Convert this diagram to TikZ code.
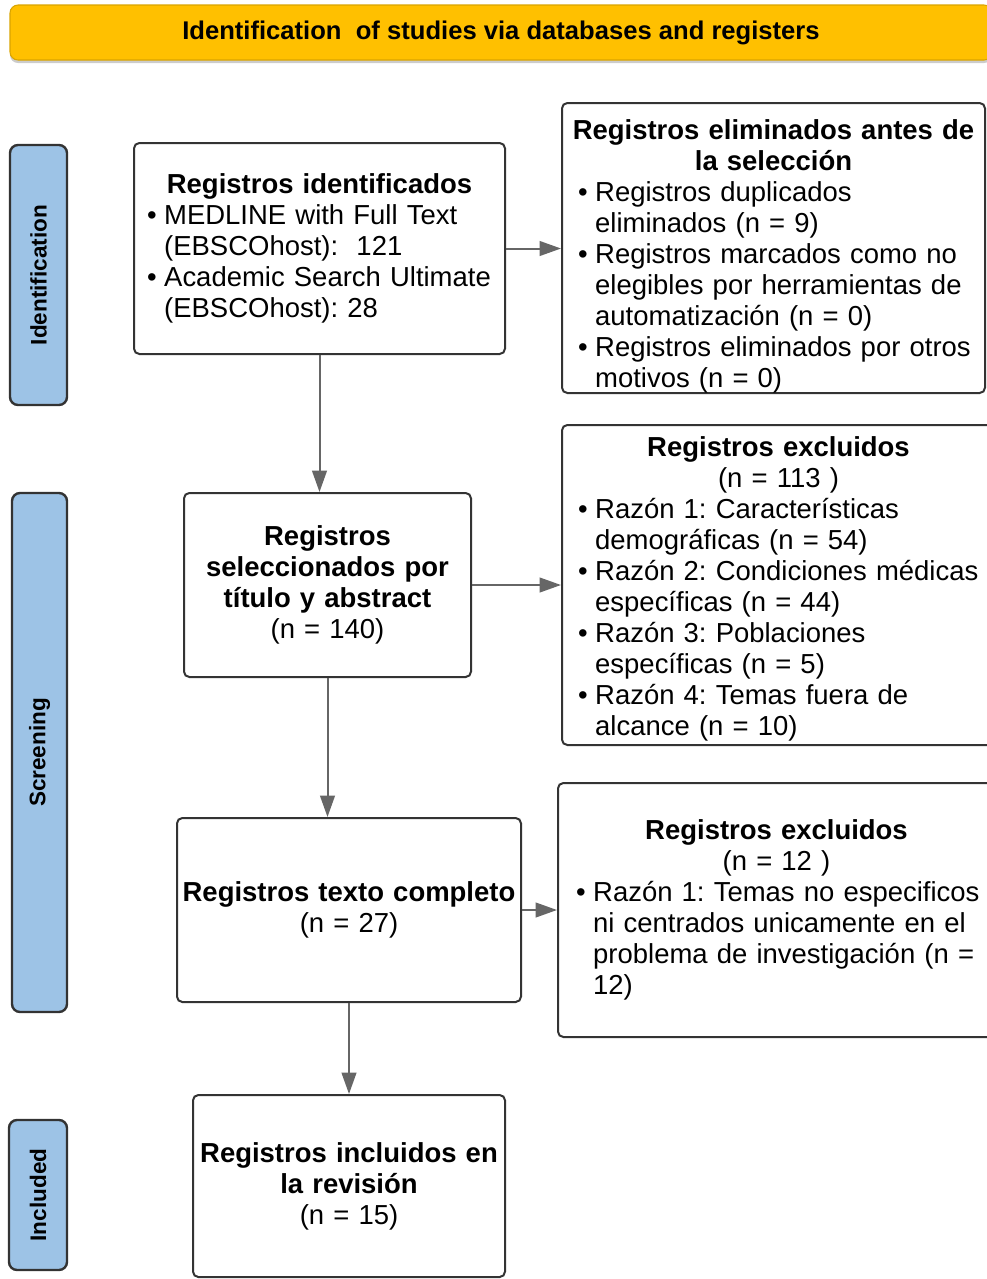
\documentclass[tikz,border=0pt]{standalone}
\usepackage{graphicx}
\usepackage{fontspec}
\setmainfont{Liberation Sans}
\usetikzlibrary{arrows.meta}
\frenchspacing

\definecolor{bannerfill}{HTML}{FFC000}
\definecolor{bannerline}{HTML}{D9A400}
\definecolor{phasefill}{HTML}{9DC3E6}
\definecolor{linedark}{HTML}{333333}
\definecolor{arrowgray}{HTML}{666666}

\newcommand{\bul}{\makebox[12.9pt][l]{\textbullet}}
\newcommand{\cont}{\hspace*{12.9pt}}
\newcommand{\phasetext}[1]{\rotatebox{90}{\fontsize{16.9}{17}\selectfont\bfseries #1}}

\begin{document}
\begin{tikzpicture}[x=0.75pt,y=-0.75pt,
  boxstyle/.style={draw=linedark,line width=1.5pt,rounded corners=4pt,fill=white,inner sep=0pt,font=\fontsize{20.6}{23.25}\selectfont},
  phasestyle/.style={draw=linedark,line width=1.8pt,rounded corners=6pt,fill=phasefill,inner sep=0pt},
  arrowstyle/.style={draw=arrowgray,line width=1.5pt,-{Triangle[length=16pt,width=11pt]}}]
    \useasboundingbox (0,0) rectangle (987,1279);

    \fill[gray!40,rounded corners=6pt] (10,8) rectangle (992,63);
    \node[draw=bannerline,line width=0.8pt,fill=bannerfill,rounded corners=6pt,inner sep=0pt,
          minimum width=736.5pt,minimum height=41.25pt] (banner) at (501,32.5)
          {\fontsize{19.2}{20}\selectfont\bfseries Identification\ \ of studies via databases and registers};

    \node[phasestyle,minimum width=42.75pt,minimum height=195pt] (identification) at (38.5,275) {\phasetext{Identification}};
    \node[phasestyle,minimum width=41.25pt,minimum height=389.25pt] (screening) at (39.5,752.5) {\phasetext{Screening}};
    \node[phasestyle,minimum width=43.5pt,minimum height=112.5pt] (included) at (38,1195) {\phasetext{Included}};

    \node[boxstyle,minimum width=278.25pt,minimum height=158.25pt,text width=258.75pt] (identificados) at (319.5,248.5) {%
      \centerline{\bfseries Registros identificados}
      \leftline{\bul MEDLINE with Full Text}
      \leftline{\cont (EBSCOhost):\ \ 121}
      \leftline{\bul Academic Search Ultimate}
      \leftline{\cont (EBSCOhost): 28}};

    \node[boxstyle,minimum width=317.25pt,minimum height=217.5pt,text width=293.25pt,text depth=178.4pt] (eliminados) at (773.5,248) {%
      \centerline{\bfseries Registros eliminados antes de}
      \centerline{\bfseries la selección}
      \leftline{\bul Registros duplicados}
      \leftline{\cont eliminados (n = 9)}
      \leftline{\bul Registros marcados como no}
      \leftline{\cont elegibles por herramientas de}
      \leftline{\cont automatización (n = 0)}
      \leftline{\bul Registros eliminados por otros}
      \leftline{\cont motivos (n = 0)}};

    \node[boxstyle,minimum width=215.25pt,minimum height=138pt,text width=200pt] (seleccionados) at (327.5,585) {%
      \centerline{\bfseries Registros}
      \centerline{\bfseries seleccionados por}
      \centerline{\bfseries título y abstract}
      \centerline{(n = 140)}};

    \node[boxstyle,minimum width=324.75pt,minimum height=240pt,text width=300.75pt,text depth=207.6pt] (excluidos) at (778.5,585) {%
      \centerline{\bfseries Registros excluidos}
      \centerline{(n = 113 )}
      \leftline{\bul Razón 1: Características}
      \leftline{\cont demográficas (n = 54)}
      \leftline{\bul Razón 2: Condiciones médicas}
      \leftline{\cont específicas (n = 44)}
      \leftline{\bul Razón 3: Poblaciones}
      \leftline{\cont específicas (n = 5)}
      \leftline{\bul Razón 4: Temas fuera de}
      \leftline{\cont alcance (n = 10)}};

    \node[boxstyle,minimum width=258pt,minimum height=138pt,text width=244pt] (completo) at (349,910) {%
      \centerline{\bfseries Registros texto completo}
      \centerline{(n = 27)}};

    \node[boxstyle,minimum width=327.75pt,minimum height=190.5pt,text width=300.75pt] (excluidostexto) at (776.5,910) {%
      \centerline{\bfseries Registros excluidos}
      \centerline{(n = 12 )}
      \leftline{\bul Razón 1: Temas no especificos}
      \leftline{\cont ni centrados unicamente en el}
      \leftline{\cont problema de investigación (n =}
      \leftline{\cont 12)}};

    \node[boxstyle,minimum width=234pt,minimum height=136.5pt,text width=220pt] (incluidos) at (349,1186) {%
      \centerline{\bfseries Registros incluidos en}
      \centerline{\bfseries la revisión}
      \centerline{(n = 15)}};

    \draw[arrowstyle] (identificados.south) -- (identificados.south |- seleccionados.north);
    \draw[arrowstyle] (seleccionados.south) -- (seleccionados.south |- completo.north);
    \draw[arrowstyle] (completo.south) -- (incluidos.north);
    \draw[arrowstyle] (identificados.east) -- (identificados.east -| eliminados.west);
    \draw[arrowstyle] (seleccionados.east) -- (seleccionados.east -| excluidos.west);
    \draw[arrowstyle] (completo.east) -- (completo.east -| excluidostexto.west);
\end{tikzpicture}
\end{document}
